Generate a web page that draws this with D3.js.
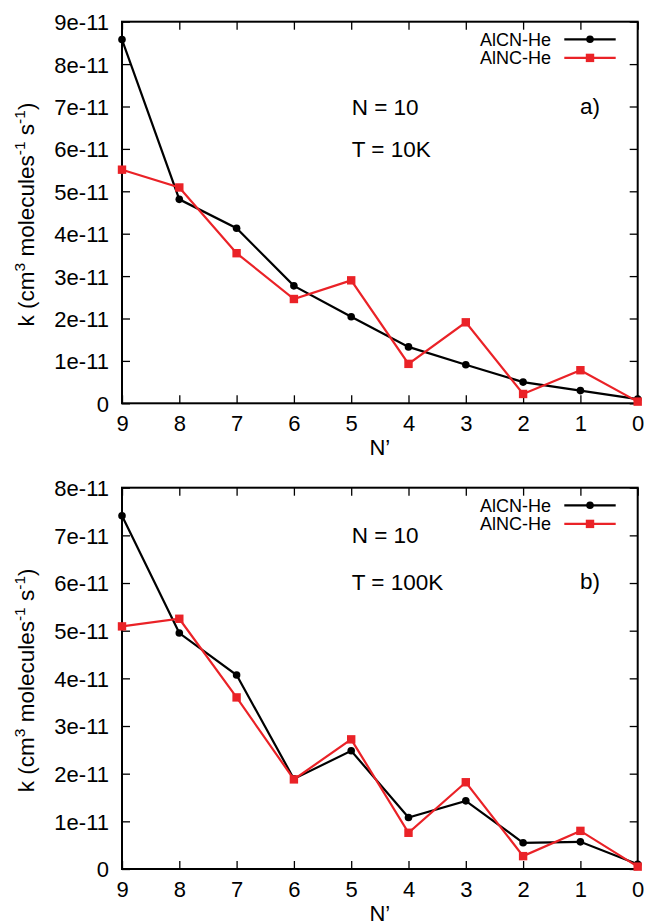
<!DOCTYPE html>
<html><head><meta charset="utf-8">
<script src="https://cdn.jsdelivr.net/npm/d3@7"></script>
<style>
html,body{margin:0;padding:0;background:#fff;}
svg{display:block;font-family:"Liberation Sans",Arial,Helvetica,sans-serif;}
</style></head>
<body>
<svg id="chart" width="647" height="924"></svg>
<script>
const nPrime = [9, 8, 7, 6, 5, 4, 3, 2, 1, 0];
// panel a) T = 10K  (values in units of 1e-11)
const alcnA = [8.58, 4.81, 4.13, 2.77, 2.04, 1.33, 0.91, 0.50, 0.30, 0.10];
const alncA = [5.51, 5.09, 3.54, 2.46, 2.90, 0.93, 1.91, 0.22, 0.78, 0.04];
// panel b) T = 100K
const alcnB = [7.41, 4.95, 4.07, 1.89, 2.48, 1.08, 1.43, 0.55, 0.57, 0.10];
const alncB = [5.09, 5.25, 3.60, 1.88, 2.72, 0.76, 1.82, 0.27, 0.80, 0.05];
const yTicksA = [0, 1, 2, 3, 4, 5, 6, 7, 8, 9];
const yTicksB = [0, 1, 2, 3, 4, 5, 6, 7, 8];
const seriesNames = ["AlCN-He", "AlNC-He"];
const colors = ["#000000", "#ea2227"];

const svg = d3.select("#chart");
const left = 122, right = 637.7;
const fmt = v => v === 0 ? "0" : v + "e-11";

function panel(top, bottom, yMax, yTicks, s1, s2) {
  const g = svg.append("g");
  const x = d3.scaleLinear().domain([9, 0]).range([left, right]);
  const y = d3.scaleLinear().domain([0, yMax]).range([bottom, top]);
  const tl = 8;
  const ax = g.append("g").attr("transform", `translate(0,${bottom})`)
    .call(d3.axisBottom(x).tickValues(nPrime).tickFormat(d3.format("d")).tickSizeInner(-tl).tickSizeOuter(0).tickPadding(12));
  const axT = g.append("g").attr("transform", `translate(0,${top})`)
    .call(d3.axisTop(x).tickValues(nPrime).tickFormat("").tickSizeInner(-tl).tickSizeOuter(0));
  const ay = g.append("g").attr("transform", `translate(${left},0)`)
    .call(d3.axisLeft(y).tickValues(yTicks).tickFormat(fmt).tickSizeInner(-tl).tickSizeOuter(0).tickPadding(13));
  const ayR = g.append("g").attr("transform", `translate(${right},0)`)
    .call(d3.axisRight(y).tickValues(yTicks).tickFormat("").tickSizeInner(-tl).tickSizeOuter(0));
  [ax, axT, ay, ayR].forEach(a => {
    a.select(".domain").remove();
    a.selectAll(".tick line").attr("stroke", "#000").attr("stroke-width", 1.3);
    a.selectAll(".tick text").attr("fill", "#000").style("font-size", "22px")
      .style("font-family", '"Liberation Sans",Arial,sans-serif');
  });
  ax.selectAll(".tick text").attr("dy", "0.71em");
  ay.selectAll(".tick text").attr("dy", "0.36em");
  g.append("rect").attr("x", left).attr("y", top).attr("width", right - left).attr("height", bottom - top)
    .attr("fill", "none").attr("stroke", "#000").attr("stroke-width", 2);

  const line = d3.line().x((d, i) => x(nPrime[i])).y(d => y(d));
  g.append("path").datum(s1).attr("d", line).attr("fill", "none").attr("stroke", colors[0]).attr("stroke-width", 2.2);
  g.selectAll(".c").data(s1).enter().append("circle")
    .attr("cx", (d, i) => x(nPrime[i])).attr("cy", d => y(d)).attr("r", 3.8).attr("fill", colors[0]);
  const sq = 8.4;
  g.append("path").datum(s2).attr("d", line).attr("fill", "none").attr("stroke", colors[1]).attr("stroke-width", 2.2);
  g.selectAll(".s").data(s2).enter().append("rect")
    .attr("x", (d, i) => x(nPrime[i]) - sq / 2).attr("y", d => y(d) - sq / 2)
    .attr("width", sq).attr("height", sq).attr("fill", colors[1]);

  const lx1 = 564.3, lx2 = 615.7, ly = top + 17.6, lstep = 18.6;
  seriesNames.forEach((n, i) => {
    const yy = ly + i * lstep;
    g.append("text").attr("x", 551).attr("y", yy + 6.5).attr("text-anchor", "end")
      .style("font-size", "18px").text(n);
    g.append("line").attr("x1", lx1).attr("x2", lx2).attr("y1", yy).attr("y2", yy)
      .attr("stroke", colors[i]).attr("stroke-width", 2.2);
    const cx = (lx1 + lx2) / 2;
    if (i === 0) g.append("circle").attr("cx", cx).attr("cy", yy).attr("r", 3.8).attr("fill", colors[0]);
    else g.append("rect").attr("x", cx - sq / 2).attr("y", yy - sq / 2).attr("width", sq).attr("height", sq).attr("fill", colors[1]);
  });

  const cy = (top + bottom) / 2 + 2;
  const yl = g.append("text").attr("transform", `translate(34,${cy}) rotate(-90)`)
    .attr("text-anchor", "middle").style("font-size", "22.5px");
  yl.append("tspan").text("k (cm");
  yl.append("tspan").attr("dy", -9).style("font-size", "15.5px").text("3");
  yl.append("tspan").attr("dy", 9).text(" molecules");
  yl.append("tspan").attr("dy", -9).style("font-size", "15.5px").text("-1");
  yl.append("tspan").attr("dy", 9).text(" s");
  yl.append("tspan").attr("dy", -9).style("font-size", "15.5px").text("-1");
  yl.append("tspan").attr("dy", 9).text(")");

  g.append("text").attr("x", (left + right) / 2).attr("y", bottom + 52).attr("text-anchor", "middle")
    .style("font-size", "22px").text("N’");
  return g;
}

const ga = panel(21.7, 403.3, 9, yTicksA, alcnA, alncA);
ga.append("text").attr("x", 351.7).attr("y", 115).style("font-size", "22.5px").text("N = 10");
ga.append("text").attr("x", 351.7).attr("y", 156.7).style("font-size", "22.5px").text("T = 10K");
ga.append("text").attr("x", 600).attr("y", 114).attr("text-anchor", "end").style("font-size", "22.5px").text("a)");

const gb = panel(487.7, 869, 8, yTicksB, alcnB, alncB);
gb.append("text").attr("x", 351.7).attr("y", 542.7).style("font-size", "22.5px").text("N = 10");
gb.append("text").attr("x", 351.7).attr("y", 590).style("font-size", "22.5px").text("T = 100K");
gb.append("text").attr("x", 600).attr("y", 589).attr("text-anchor", "end").style("font-size", "22.5px").text("b)");
</script>
</body></html>
